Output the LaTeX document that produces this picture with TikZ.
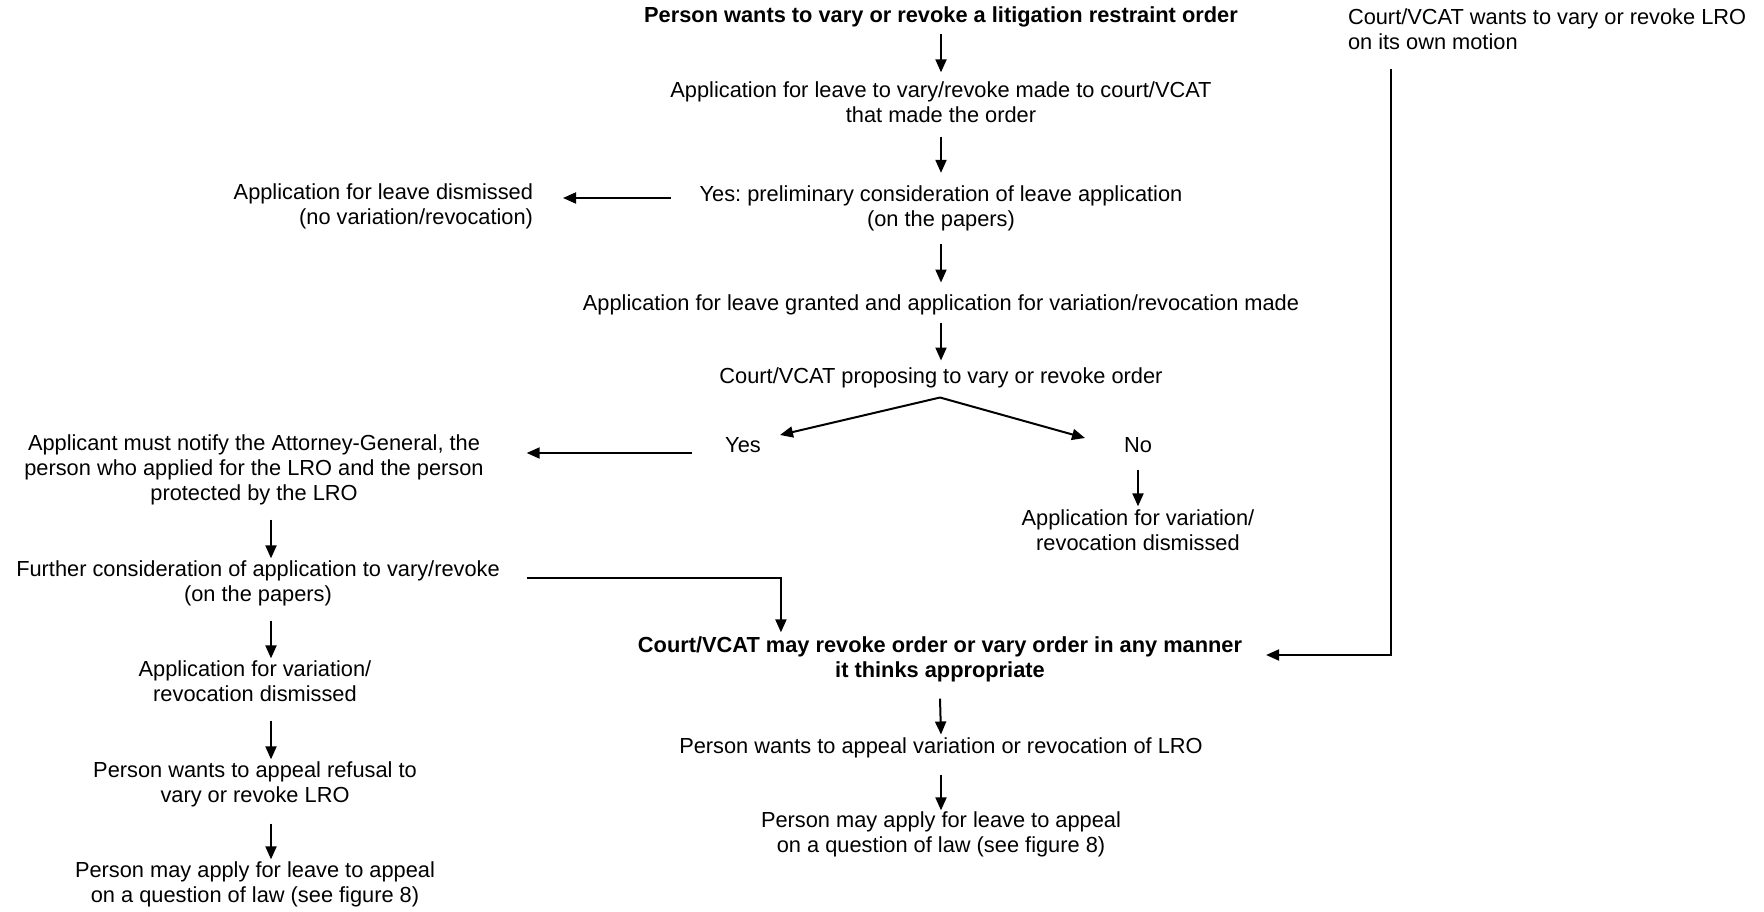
\documentclass[tikz,border=0pt]{standalone}
\usepackage{fontspec}
\setmainfont{Liberation Sans}
\usetikzlibrary{arrows.meta,calc}
\frenchspacing
\begin{document}
\begin{tikzpicture}[x=1pt,y=-1pt,
  txt/.style={font=\fontsize{21.8}{25}\selectfont\frenchspacing, inner sep=0pt, outer sep=0pt, align=center,
    execute at begin node=\strut, execute at end node=\strut},
  boldtxt/.style={txt, font=\fontsize{21.8}{25}\selectfont\bfseries\frenchspacing},
  arr/.style={line width=2pt, -{Triangle[length=13pt,width=11pt]}}]
\useasboundingbox (0,0) rectangle (1764,912);

% main column
\node[boldtxt] (title) at (941,18) {Person wants to vary or revoke a litigation restraint order};
\node[txt] (leave) at (941,105.5) {Application for leave to vary/revoke made to court/VCAT\\that made the order};
\node[txt] (prelim) at (941,210) {Yes: preliminary consideration of leave application\\(on the papers)};
\node[txt, align=right, anchor=east] (dismissed) at (533,208) {Application for leave dismissed\\(no variation/revocation)};
\node[txt] (granted) at (941,305) {Application for leave granted and application for variation/revocation made};
\node[txt] (proposing) at (941,378) {Court/VCAT proposing to vary or revoke order};
\node[txt] (yes) at (743,447) {Yes};
\node[txt] (no) at (1138,447) {No};
\node[txt] (noapp) at (1138,533.5) {Application for variation/\\revocation dismissed};

% left column
\node[txt] (applicant) at (254,471) {Applicant must notify the Attorney-General, the\\person who applied for the LRO and the person\\protected by the LRO};
\node[txt] (further) at (258,584.5) {Further consideration of application to vary/revoke\\(on the papers)};
\node[txt] (appvar) at (255,684.5) {Application for variation/\\revocation dismissed};
\node[txt] (wantsref) at (255,785.5) {Person wants to appeal refusal to\\vary or revoke LRO};
\node[txt] (mayleft) at (255,885.5) {Person may apply for leave to appeal\\on a question of law (see figure 8)};

% right side
\node[txt, align=left, anchor=west] (own) at (1348,32.5) {Court/VCAT wants to vary or revoke LRO\\on its own motion};
\node[boldtxt] (mayrevoke) at (940,660.5) {Court/VCAT may revoke order or vary order in any manner\\it thinks appropriate};
\node[txt] (wantsvar) at (941,748) {Person wants to appeal variation or revocation of LRO};
\node[txt] (mayright) at (941,835.5) {Person may apply for leave to appeal\\on a question of law (see figure 8)};

% main column arrows
\draw[arr] ($(title.south)+(0,4)$) -- ($(leave.north)+(0,-9)$);
\draw[arr] ($(leave.south)+(0,7)$) -- ($(prelim.north)+(0,-13)$);
\draw[arr] ($(prelim.south)+(0,10)$) -- ($(granted.north)+(0,-10)$);
\draw[arr] ($(granted.south)+(0,5)$) -- ($(proposing.north)+(0,-5)$);

\coordinate (preL) at ($(prelim.west)+(-29,-12)$);
\coordinate (disR) at ($(dismissed.east)+(30,0)$);
\draw[arr] (preL) -- (preL -| disR);

\coordinate (apex) at ($(proposing.south)+(-1,7)$);
\draw[arr] (apex) -- ($(yes.center)+(37,-12)$);
\draw[arr] (apex) -- ($(no.center)+(-53,-9)$);

\coordinate (yesL) at ($(yes.west)+(-33,6)$);
\coordinate (appR) at ($(applicant.east)+(43,0)$);
\draw[arr] (yesL) -- (yesL -| appR);

\draw[arr] ($(no.south)+(0,10)$) -- ($(noapp.north)+(0,-3)$);

% left column arrows
\draw[arr] ($(applicant.south)+(17,12)$) -- ($(further.north)+(13,-2)$);
\draw[arr] ($(further.south)+(13,12)$) -- ($(appvar.north)+(16,-2)$);
\draw[arr] ($(appvar.south)+(16,12)$) -- ($(wantsref.north)+(16,-2)$);
\draw[arr] ($(wantsref.south)+(16,14)$) -- ($(mayleft.north)+(16,-2)$);

% further -> may revoke
\coordinate (furR) at ($(further.east)+(27,-6.5)$);
\coordinate (revT) at ($(mayrevoke.north west)+(143,-4)$);
\draw[arr] (furR) -| (revT);

% own motion -> may revoke
\coordinate (ownS) at ($(own.south west)+(43,12.5)$);
\coordinate (revR) at ($(mayrevoke.east)+(24,-5.5)$);
\draw[arr] (ownS) |- (revR);

% right bottom column
\draw[arr] ($(mayrevoke.south)+(0,14)$) -- ($(wantsvar.north)+(0,-1)$);
\draw[arr] ($(wantsvar.south)+(0,14)$) -- ($(mayright.north)+(0,-1)$);
\end{tikzpicture}
\end{document}
